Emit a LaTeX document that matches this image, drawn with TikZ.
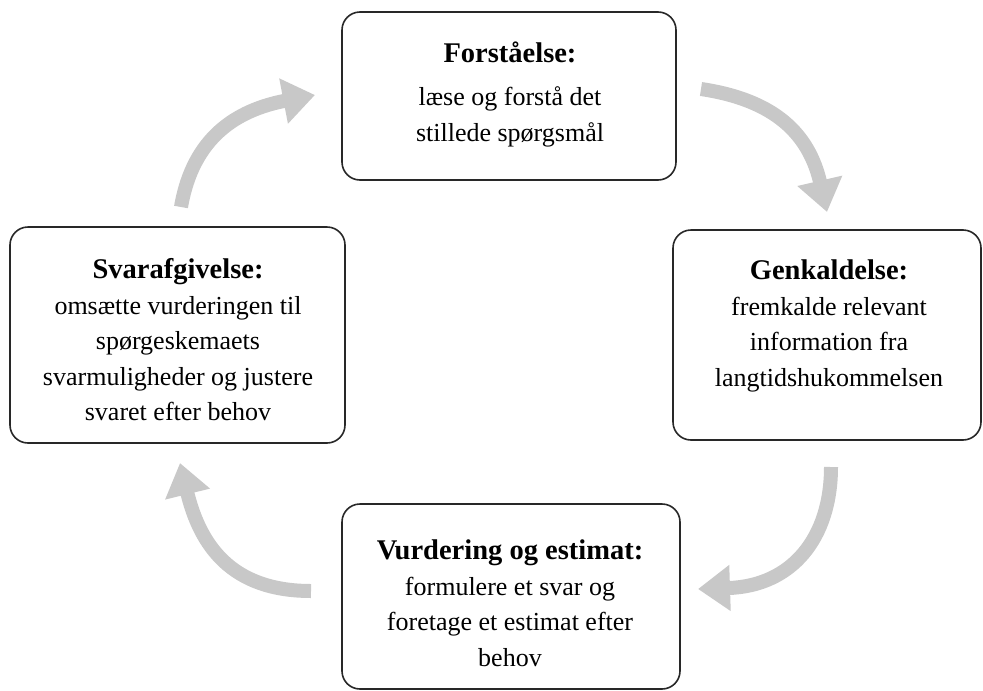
\documentclass[tikz,border=0pt]{standalone}
\usepackage{fontspec}
\setmainfont{Liberation Serif}
\usetikzlibrary{arrows.meta}
\definecolor{arrgray}{RGB}{200,200,200}
\definecolor{boxline}{RGB}{40,40,40}
\newcommand{\ttl}[1]{{\fontsize{28.5}{35.5}\selectfont\textbf{#1}}}
\tikzset{
  box/.style={draw=boxline, line width=1.6pt, rounded corners=18pt, fill=white, inner sep=0pt},
  txt/.style={align=center, inner sep=0pt, font=\fontsize{26}{35.5}\selectfont},
  arr/.style={draw=arrgray, line width=14pt, -{Triangle[width=44pt,length=32pt]}}
}
\begin{document}
\begin{tikzpicture}[x=1pt,y=-1pt]
\useasboundingbox[fill=white] (0,0) rectangle (983,691);
% boxes
\node[box, minimum width=334pt, minimum height=168pt] (top) at (509,96) {};
\node[box, minimum width=335pt, minimum height=216pt] (left) at (177.5,335) {};
\node[box, minimum width=308pt, minimum height=210pt] (right) at (827,335) {};
\node[box, minimum width=338pt, minimum height=185pt] (bottom) at (511,596.5) {};
% texts
\node[txt] (ttop) at (510,94) {\ttl{Forståelse:}\\[8pt]læse og forstå det\\stillede spørgsmål};
\node[txt] (tleft) at (178,340) {\ttl{Svarafgivelse:}\\omsætte vurderingen til\\spørgeskemaets\\svarmuligheder og justere\\svaret efter behov};
\node[txt] (tright) at (829,326) {\ttl{Genkaldelse:}\\fremkalde relevant\\information fra\\langtidshukommelsen};
\node[txt] (tbottom) at (510,603) {\ttl{Vurdering og estimat:}\\formulere et svar og\\foretage et estimat efter\\behov};
% arrows
\coordinate (a1s) at (181,207);
\coordinate (a1e) at (315,95);
\coordinate (a2s) at (701,89);
\coordinate (a2e) at (827,212);
\coordinate (a3s) at (831,467);
\coordinate (a3e) at (698,589);
\coordinate (a4s) at (311,591);
\coordinate (a4e) at (180,463);
\draw[arr] (a1s) .. controls (193,137) and (237,110) .. (a1e);
\draw[arr] (a2s) .. controls (775,100) and (809,134) .. (a2e);
\draw[arr] (a3s) .. controls (831,538) and (792,586) .. (a3e);
\draw[arr] (a4s) .. controls (231,591) and (200,545) .. (a4e);
\end{tikzpicture}
\end{document}
